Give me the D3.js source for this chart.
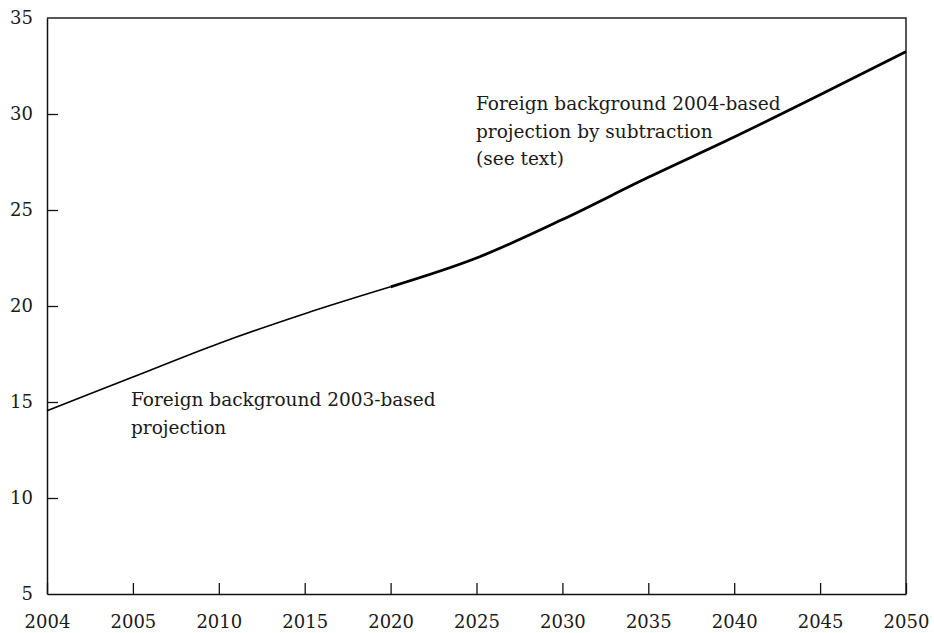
<!DOCTYPE html>
<html>
<head>
<meta charset="utf-8">
<script src="https://cdn.jsdelivr.net/npm/d3@7"></script>
<style>
  body { margin: 0; background: #fff; }
  svg text { font-family: "DejaVu Serif", serif; fill: #1a1a1a; }
</style>
</head>
<body>
<div id="chart"></div>
<script>
// categories on the x axis (evenly spaced labels)
const years = ["2004", "2005", "2010", "2015", "2020", "2025", "2030", "2035", "2040", "2045", "2050"];
// 2003-based projection, 2004 to 2020
const base2003 = [14.55, 16.3, 18.05, 19.6, 21.0];
// 2004-based projection by subtraction, 2020 to 2050
const base2004 = [21.0, 22.5, 24.5, 26.7, 28.8, 31.0, 33.25];
const yTicks = [5, 10, 15, 20, 25, 30, 35];

const WIDTH = 934, HEIGHT = 633;
const MARGIN = {left: 47, right: 28, top: 18, bottom: 39};

let svg = d3.select('#chart')
  .append('svg')
  .attr('width', WIDTH)
  .attr('height', HEIGHT);

const xScale = d3.scalePoint()
  .domain(years)
  .range([MARGIN.left, WIDTH - MARGIN.right]);

const yScale = d3.scaleLinear()
  .domain([5, 35])
  .range([HEIGHT - MARGIN.bottom, MARGIN.top]);

// frame top and right
svg.append('path')
  .attr('d', `M${MARGIN.left},${MARGIN.top}H${WIDTH - MARGIN.right}V${HEIGHT - MARGIN.bottom}`)
  .attr('fill', 'none')
  .attr('stroke', '#222')
  .attr('stroke-width', 1.5);

// x axis, ticks pointing in
let xAxisG = svg.append('g')
  .attr('transform', `translate(0,${HEIGHT - MARGIN.bottom})`)
  .call(d3.axisBottom(xScale).tickSizeInner(-11).tickSizeOuter(0).tickPadding(22));
xAxisG.select('.domain').attr('stroke', '#111').attr('stroke-width', 1.5);
xAxisG.selectAll('.tick line').attr('stroke', '#111').attr('stroke-width', 1.3);
xAxisG.selectAll('.tick text').attr('font-size', 18).attr('dy', '0.35em').attr('y', 28);

// y axis, ticks pointing in
let yAxisG = svg.append('g')
  .attr('transform', `translate(${MARGIN.left},0)`)
  .call(d3.axisLeft(yScale).tickValues(yTicks).tickSizeInner(-11).tickSizeOuter(0).tickPadding(14));
yAxisG.select('.domain').attr('stroke', '#111').attr('stroke-width', 1.5);
yAxisG.selectAll('.tick line').attr('stroke', '#111').attr('stroke-width', 1.3);
yAxisG.selectAll('.tick text').attr('font-size', 18).attr('x', -14);
yAxisG.selectAll('.tick').filter(d => d === 5 || d === 35).select('line').remove();

const line = d3.line()
  .x(d => xScale(d.year))
  .y(d => yScale(d.value))
  .curve(d3.curveMonotoneX);

const thinData = base2003.map((v, i) => ({year: years[i], value: v}));
const thickData = base2004.map((v, i) => ({year: years[i + 4], value: v}));

svg.append('path')
  .datum(thinData)
  .attr('d', line)
  .attr('fill', 'none')
  .attr('stroke', '#000')
  .attr('stroke-width', 1.6);

svg.append('path')
  .datum(thickData)
  .attr('d', line)
  .attr('fill', 'none')
  .attr('stroke', '#000')
  .attr('stroke-width', 2.8);

// annotations
function note(x, y, lines) {
  let t = svg.append('text').attr('x', x).attr('y', y).attr('font-size', 18.5);
  lines.forEach((s, i) => {
    t.append('tspan').attr('x', x).attr('dy', i === 0 ? 0 : 27.5).text(s);
  });
}
note(131, 406, ["Foreign background 2003-based", "projection"]);
note(476, 110, ["Foreign background 2004-based", "projection by subtraction", "(see text)"]);
</script>
</body>
</html>
